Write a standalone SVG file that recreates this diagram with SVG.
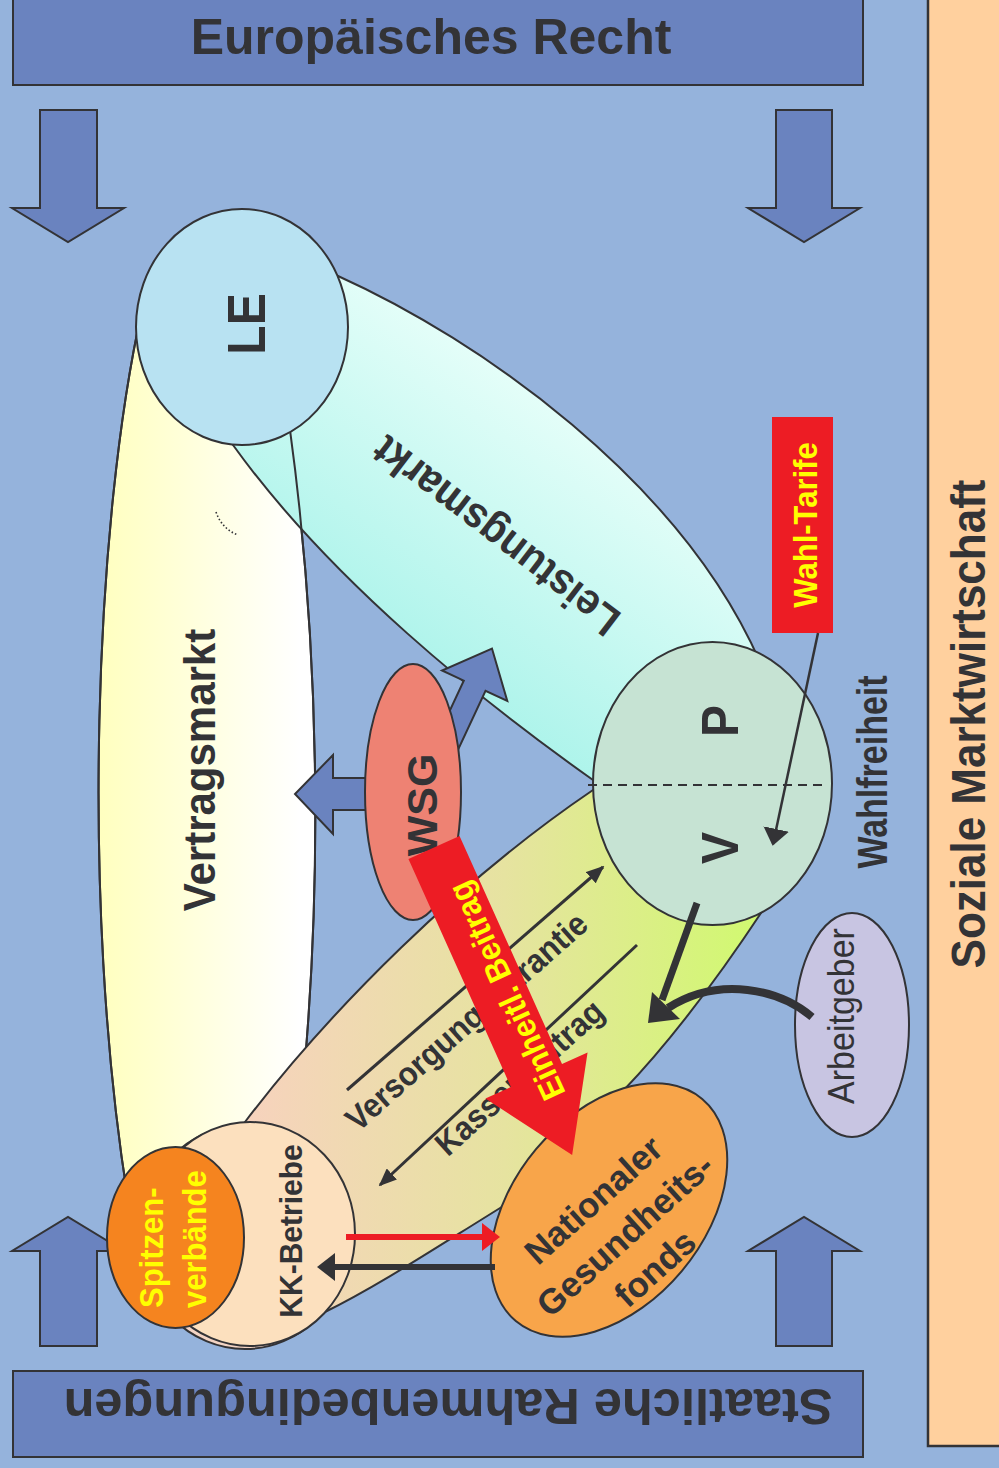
<svg xmlns="http://www.w3.org/2000/svg" width="999" height="1468" viewBox="0 0 999 1468">
<style>
.t{font-family:"Liberation Sans",Arial,sans-serif;fill:#333336;font-weight:bold}
.r{font-family:"Liberation Sans",Arial,sans-serif;fill:#333336}
.y{font-family:"Liberation Sans",Arial,sans-serif;fill:#FFFF00;font-weight:bold}
.s{stroke:#333336;stroke-width:2}
.blk{fill:#6A83BF;stroke:#333336;stroke-width:2}
.ln{fill:none;stroke:#333336}
</style>
<defs>
<linearGradient id="gV" gradientUnits="userSpaceOnUse" x1="95" y1="0" x2="300" y2="0">
<stop offset="0" stop-color="#FFFFBE"/><stop offset="0.35" stop-color="#FFFFD4"/><stop offset="1" stop-color="#FFFFFF"/>
</linearGradient>
<linearGradient id="gL" gradientUnits="userSpaceOnUse" x1="420" y1="660" x2="600" y2="400">
<stop offset="0" stop-color="#AEF4EB"/><stop offset="1" stop-color="#EAFFFA"/>
</linearGradient>
<linearGradient id="gR" gradientUnits="userSpaceOnUse" x1="240" y1="0" x2="770" y2="0">
<stop offset="0" stop-color="#F7D2BE"/><stop offset="0.5" stop-color="#E6E3A0"/><stop offset="1" stop-color="#D0FA6E"/>
</linearGradient>
<marker id="ah" viewBox="0 0 10 10" refX="9" refY="5" markerUnits="userSpaceOnUse" markerWidth="18" markerHeight="15" orient="auto" preserveAspectRatio="none">
<path d="M0,0 L10,5 L0,10 Z" fill="#333336"/>
</marker>
<marker id="ah2" viewBox="0 0 10 10" refX="9" refY="5" markerUnits="userSpaceOnUse" markerWidth="17" markerHeight="26" orient="auto" preserveAspectRatio="none">
<path d="M0,0 L10,5 L0,10 Z" fill="#333336"/>
</marker>
</defs>

<rect x="0" y="0" width="999" height="1468" fill="#95B3DC"/>

<g id="soziale-marktwirtschaft">
<rect x="928" y="-2" width="80" height="1448" fill="#FFD09E" stroke="#333336" stroke-width="2.5"/>
<text class="t" font-size="44" text-anchor="middle" transform="translate(985,724) rotate(-90) scale(1,1.08)">Soziale Marktwirtschaft</text>
</g>

<g id="europaeisches-recht">
<rect x="13" y="-2" width="850" height="87" class="blk"/>
<text class="t" font-size="50" text-anchor="middle" x="431" y="54">Europäisches Recht</text>
</g>

<g id="staatliche-rahmenbedingungen">
<rect x="13" y="1371" width="850" height="86" class="blk"/>
<text class="t" font-size="50.5" text-anchor="middle" transform="translate(448,1389) rotate(180)">Staatliche Rahmenbedingungen</text>
</g>

<g id="block-arrows">
<polygon class="blk" points="40,110 97,110 97,208 124,208 68,242 12,208 40,208"/>
<polygon class="blk" points="776,110 832,110 832,208 860,208 804,242 748,208 776,208"/>
<polygon class="blk" points="40,1346 97,1346 97,1251 124,1251 68,1217 12,1251 40,1251"/>
<polygon class="blk" points="776,1346 832,1346 832,1251 860,1251 804,1217 748,1251 776,1251"/>
</g>

<g id="vertragsmarkt">
<path d="M142,310 C95,520 80,900 128,1200 L250,1200 L303,1085 C322,880 320,650 290,430 Z" fill="url(#gV)" class="s"/>
</g>

<g id="leistungsmarkt">
<path d="M300,250 L338,276 C480,340 680,480 760,662 L712,783 L593,780 C480,700 330,580 233,445 Z" fill="url(#gL)" class="s"/>
<text class="t" font-size="40" text-anchor="middle" transform="translate(505,524) rotate(217.5) scale(1,1.08)">Leistungsmarkt</text>
</g>
<path d="M142,310 C95,520 80,900 128,1200 M303,1085 C322,880 320,650 290,430" class="ln" stroke-width="2"/>
<text class="t" font-size="42" text-anchor="middle" transform="translate(215,770) rotate(-90) scale(1,1.05)">Vertragsmarkt</text>
<path d="M216,512 Q222,529 238,535" fill="none" stroke="#333336" stroke-width="1.6" stroke-dasharray="1.5,2.2"/>

<g id="versorgung-band">
<path d="M245,1122 C330,1010 460,880 593,790 L712,783 L763,910 C720,975 672,1040 622,1092 L560,1180 L505,1205 C440,1245 380,1285 323,1313 L265,1234 Z" fill="url(#gR)" class="s"/>
<text class="t" font-size="31" text-anchor="middle" transform="translate(474,1030) rotate(-41.5) scale(1,1.08)">Versorgungsgarantie</text>
<text class="t" font-size="31" text-anchor="middle" transform="translate(527,1086) rotate(-42) scale(1,1.08)">Kassenbeitrag</text>
</g>

<g id="wsg">
<polygon class="blk" points="370,778 333,778 333,755 295,794 333,834 333,810 370,810"/>
<polygon class="blk" transform="translate(440,760) rotate(-65)" points="0,-12 82,-12 82,-36 123,0 82,36 82,12 0,12"/>
<ellipse cx="413" cy="792" rx="48" ry="128" fill="#EE8273" class="s"/>
<text class="t" font-size="43" text-anchor="middle" transform="translate(437,805) rotate(-90)">WSG</text>
</g>

<g id="le">
<ellipse cx="242" cy="327" rx="106" ry="118" fill="#B8E2F2" class="s"/>
<text class="t" font-size="48" text-anchor="middle" transform="translate(265,324) rotate(-90) scale(1,1.1)">LE</text>
</g>

<g id="pv">
<ellipse cx="712.5" cy="783.5" rx="119.5" ry="141.5" fill="#C6E3D3" class="s"/>
<line x1="588" y1="785" x2="825" y2="785" stroke="#333336" stroke-width="2" stroke-dasharray="9,6"/>
<text class="t" font-size="48" text-anchor="middle" transform="translate(738,721) rotate(-90) scale(1,1.08)">P</text>
<text class="t" font-size="48" text-anchor="middle" transform="translate(738,848) rotate(-90) scale(1,1.08)">V</text>
</g>

<g id="wahlfreiheit">
<text class="t" font-size="34" text-anchor="middle" transform="translate(887,772) rotate(-90) scale(1,1.25)">Wahlfreiheit</text>
</g>

<g id="wahl-tarife">
<rect x="772" y="417" width="61" height="216" fill="#ED1C24"/>
<text class="y" font-size="31" text-anchor="middle" transform="translate(817,525) rotate(-90) scale(1,1.08)">Wahl-Tarife</text>
</g>

<g id="kk-betriebe">
<ellipse cx="245" cy="1237" rx="105" ry="112" fill="#F3D4C4" class="s"/>
<ellipse cx="250" cy="1234" rx="105" ry="112" fill="#FCE0BE" class="s"/>
<text class="t" font-size="30" text-anchor="middle" transform="translate(302,1231) rotate(-90) scale(1,1.05)">KK-Betriebe</text>
</g>

<g id="spitzenverbaende">
<ellipse cx="175.5" cy="1237.5" rx="68.5" ry="90.5" fill="#F5841F" class="s"/>
<text class="y" font-size="31" transform="translate(163,1308) rotate(-90) scale(1,1.08)">Spitzen-</text>
<text class="y" font-size="31" transform="translate(206,1308) rotate(-90) scale(1,1.08)">verbände</text>
</g>

<g id="gesundheitsfonds">
<ellipse cx="609" cy="1210" rx="145" ry="95" transform="rotate(-50 609 1210)" fill="#F8A54A" class="s"/>
<g transform="translate(625,1235) rotate(-42)">
<text class="t" font-size="35" text-anchor="middle" x="0" y="-35">Nationaler</text>
<text class="t" font-size="35" text-anchor="middle" x="0" y="12">Gesundheits-</text>
<text class="t" font-size="35" text-anchor="middle" x="0" y="57">fonds</text>
</g>
</g>

<g id="arbeitgeber">
<ellipse cx="852" cy="1025" rx="57" ry="112" fill="#C8C5E2" class="s"/>
<text class="r" font-size="34" text-anchor="middle" transform="translate(854,1016) rotate(-90) scale(1,1.1)">Arbeitgeber</text>
</g>

<g id="connectors">
<line x1="347" y1="1090" x2="603" y2="867" class="ln" stroke-width="3" marker-end="url(#ah)"/>
<line x1="637" y1="945" x2="380" y2="1185" class="ln" stroke-width="3" marker-end="url(#ah)"/>
<line x1="818" y1="633" x2="773" y2="844" class="ln" stroke-width="2.5" marker-end="url(#ah2)"/>
<line x1="697" y1="903" x2="662" y2="1000" class="ln" stroke-width="7"/>
<path d="M812,1017 C780,990 720,975 668,1008" class="ln" stroke-width="8"/>
<polygon points="648,1023 652,992 680,1019" fill="#333336"/>
<line x1="346" y1="1237" x2="484" y2="1237" stroke="#ED1C24" stroke-width="6"/>
<polygon points="482,1223 500,1237 482,1251" fill="#ED1C24"/>
<line x1="495" y1="1267" x2="333" y2="1267" stroke="#333336" stroke-width="6"/>
<polygon points="335,1253 317,1267 335,1281" fill="#333336"/>
</g>

<g id="einheitlicher-beitrag">
<polygon fill="#ED1C24" transform="translate(434,847.5) rotate(65.8)" points="0,-28 250,-28 250,-56 337,0 250,56 250,28 0,28"/>
<text class="y" font-size="31" text-anchor="middle" transform="translate(517,986) rotate(-114.6) scale(1,1.08)">Einheitl. Beitrag</text>
</g>
</svg>
